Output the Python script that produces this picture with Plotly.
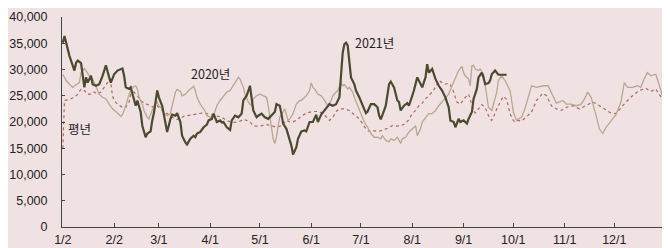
import pandas as pd
import plotly.graph_objects as go

# day offsets from Jan 2, values (won)
days_2021 = [0,1,4,7,8,9,11,12,13,14,15,17,18,20,22,24,26,28,29,31,33,36,37,38,40,41,42,44,45,47,48,50,51,53,54,55,57,58,60,61,62,63,65,66,68,69,71,72,74,75,77,79,80,81,83,85,87,88,90,91,93,95,96,97,99,101,102,104,106,108,109,111,113,114,115,117,118,120,122,124,126,128,129,131,132,133,135,137,138,139,141,142,144,146,147,149,151,153,154,156,158,160,161,163,165,167,168,169,170,171,172,173,174,176,177,179,181,183,184,186,188,190,191,192,194,195,197,198,200,202,203,204,206,208,209,210,212,214,215,217,219,220,221,223,225,227,229,231,233,234,236,237,239,240,242,244,245,247,248,250,251,253,254,255,257,258,259,261,263,265,268]
vals_2021 = [35100,36400,32600,29800,31300,31700,31200,28800,26600,28500,27500,28800,27200,26900,27200,28800,30800,28500,27500,29100,29800,30200,28800,26600,26300,26600,25300,23100,24100,21900,19300,17100,17800,18200,20300,21700,26000,24700,23100,21200,19300,18100,20600,21400,21200,21700,20000,17400,16100,15700,16800,17400,17100,17800,18100,19000,19500,20300,20600,21600,20000,20300,19900,20000,19000,18500,20300,21200,20900,21600,24100,25000,26900,24100,22200,20900,21200,21600,20900,20600,21200,21900,23400,23100,21600,19700,18700,16800,15500,13800,15200,16800,18200,18400,18200,20000,20000,21400,20000,21400,22200,22800,23400,23100,23400,24700,28200,33200,34800,35100,34600,32000,28500,27200,26000,24700,23100,21700,22000,23400,23400,22800,21200,20500,22200,23100,27200,27700,26600,24100,23800,22200,23100,23600,23100,24100,26000,28500,27900,26600,28500,31000,29400,30100,28200,26900,26000,24700,22800,20300,20000,19000,20600,20000,20300,19700,20600,21900,24400,26300,28500,29400,28500,27200,27400,27900,29100,29800,29000,29000,29000]

days_2020 = [0,2,4,6,8,10,11,13,14,16,18,20,22,24,26,28,30,33,35,36,38,40,42,44,45,46,48,49,51,52,54,55,57,58,60,61,63,65,66,68,69,71,72,74,76,78,79,80,81,83,85,86,87,89,91,92,93,95,97,99,101,102,104,106,107,109,110,112,114,115,117,119,121,123,124,125,126,127,128,129,130,131,133,134,136,137,139,140,141,143,144,146,147,149,150,151,152,154,156,158,160,162,163,165,166,168,169,170,172,173,175,176,178,180,182,184,186,188,190,192,193,195,197,198,200,202,204,205,207,209,211,213,214,216,217,219,221,223,225,227,229,231,233,235,237,239,241,242,243,245,246,247,248,249,251,252,254,255,256,257,259,260,262,263,265,267,268,270,271,272,274,275,277,279,281,283,286,290,293,296,298,302,304,307,310,313,315,317,319,322,324,326,328,332,334,337,339,341,344,347,349,351,353,355,358,360,362,363]
vals_2020 = [29100,27900,27200,26600,27100,27500,29400,30200,29800,28800,28200,26600,25300,24700,24400,23400,22500,21700,21100,21400,23100,25300,26600,26900,26300,24700,23400,22200,20900,20600,22200,23100,23800,23100,22500,21700,21200,21600,23100,25700,26200,25800,25000,25300,26000,26600,26800,26000,24700,23400,22500,22000,21200,20900,21200,22200,23100,24100,25000,25700,26000,26600,27500,28500,28200,26600,25300,23800,23100,24400,25000,25300,25000,24700,23100,20900,18700,16800,15900,17100,19300,20900,21900,22500,20300,20600,21600,22500,23400,24100,24100,24700,25000,26000,27500,26600,26300,25300,25000,24100,23100,24100,25000,25700,26000,27500,26900,27100,26300,26600,25700,24700,23100,21600,20000,19000,17800,17100,17100,16800,17400,16500,16200,16800,16500,17100,15900,16800,17100,18100,18700,19300,17400,18700,20000,20900,21600,21600,22200,23100,23800,24700,25300,26900,28500,29800,30600,29400,28800,28200,26900,30700,30800,30100,29800,30100,29100,27200,24700,22800,22200,23400,25700,27900,28800,27900,27200,26000,24100,21900,20300,20600,20900,22500,24700,26900,26600,26900,26900,25000,23600,24100,23400,23400,23100,23400,24400,25700,24700,21200,18700,17800,19000,20600,21400,23800,27500,26600,26600,26900,26600,28200,29400,28800,29100,27200,25000,23900]

days_avg = [0,1,4,7,9,11,13,15,17,19,21,23,25,27,28,29,30,31,33,36,38,40,41,43,45,47,49,51,53,55,57,59,61,63,65,67,69,71,73,75,78,81,84,87,90,93,96,99,102,106,109,111,113,115,117,120,123,126,129,132,135,138,141,144,147,151,154,157,159,161,163,165,167,170,173,175,177,179,181,183,185,187,190,193,196,199,201,204,207,209,211,213,215,217,219,221,223,225,227,229,231,233,235,237,238,240,243,245,246,248,249,251,253,255,257,259,260,262,265,266,268,269,270,272,273,275,277,279,281,283,286,290,292,295,298,301,304,308,312,316,320,323,327,331,334,337,340,344,348,352,355,358,360,363]
vals_avg = [15000,24100,24300,24700,25300,26300,26000,25300,25300,25700,25300,25700,26600,27500,28200,27200,25000,24100,23400,22800,22800,23800,25300,25700,25000,24100,23600,23400,23100,22800,23100,22500,21900,21600,21100,20700,20500,20600,21100,21200,21400,21600,21700,21600,21400,21100,20900,20300,19900,20000,20500,20300,20000,19300,19200,19300,19500,19300,19000,19300,20300,19900,20300,21100,21700,22000,22000,21700,20900,20300,20900,22000,22500,22500,22200,21700,21200,20600,19700,18700,18200,18400,18200,18400,18800,19300,19200,19300,19700,20500,21600,22200,23100,23600,24400,25000,25700,26600,27900,27500,27200,27400,26600,24700,23800,23400,24700,25300,24100,22200,21700,22500,23300,22800,21200,20300,20900,22500,24500,24900,24300,22800,21600,20300,20000,20300,20200,20700,21400,21900,24100,25500,25000,23100,22500,22200,22800,23100,22500,23100,23800,23300,22500,21700,21600,22800,23800,25000,26000,26400,25800,26300,25300,24100]

tick_dates = ["2021-01-02","2021-02-02","2021-03-01","2021-04-01","2021-05-01","2021-06-01",
              "2021-07-01","2021-08-01","2021-09-01","2021-10-01","2021-11-01","2021-12-01","2021-12-31"]
tick_labels = ["1/2","2/2","3/1","4/1","5/1","6/1","7/1","8/1","9/1","10/1","11/1","12/1",""]
y_ticks = [0,5000,10000,15000,20000,25000,30000,35000,40000]

start = pd.Timestamp("2021-01-02")
def to_dates(days):
    return start + pd.to_timedelta(days, unit="D")

fig = go.Figure()
fig.add_trace(go.Scatter(x=to_dates(days_avg), y=vals_avg, mode="lines", name="평년",
                         line=dict(color="#B0665C", width=1.2, dash="dot")))
fig.add_trace(go.Scatter(x=to_dates(days_2020), y=vals_2020, mode="lines", name="2020년",
                         line=dict(color="#B9A690", width=1.3)))
fig.add_trace(go.Scatter(x=to_dates(days_2021), y=vals_2021, mode="lines", name="2021년",
                         line=dict(color="#4A4A2E", width=2.2)))

font_kr = "Noto Sans CJK KR, Liberation Sans, Arial, sans-serif"
font_num = "Liberation Sans, Arial, sans-serif"
ann = [("2021-07-09", 35100, "2021년"), ("2021-04-01", 29200, "2020년"), ("2021-01-12", 18800, "평년")]
for x, y, t in ann:
    fig.add_annotation(x=x, y=y, text=t, showarrow=False,
                       font=dict(size=12.5, color="#222222", family=font_kr))

bg = "#F0E2E2"
fig.update_layout(
    width=662, height=240,
    margin=dict(l=54, r=6, t=9, b=21),
    paper_bgcolor=bg, plot_bgcolor=bg,
    showlegend=False,
    font=dict(family=font_num, size=12.5, color="#222222"),
)
fig.update_xaxes(
    range=["2021-01-01 12:00", "2021-12-31"],
    tickvals=tick_dates, ticktext=tick_labels,
    showgrid=False, zeroline=False, automargin=False,
    showline=True, linecolor="#444444", linewidth=1,
    ticks="inside", ticklen=4, tickcolor="#444444",
    ticklabelstandoff=1,
    tickfont=dict(size=12.5, color="#222222", family=font_num),
)
fig.update_yaxes(
    range=[0, 40000],
    tickvals=y_ticks, tickformat=",d",
    showgrid=False, zeroline=False, automargin=False,
    showline=True, linecolor="#444444", linewidth=1,
    ticks="inside", ticklen=3, tickcolor="#444444",
    ticklabelstandoff=11,
    tickfont=dict(size=12.5, color="#222222", family=font_num),
)
fig.write_html("out.html")
